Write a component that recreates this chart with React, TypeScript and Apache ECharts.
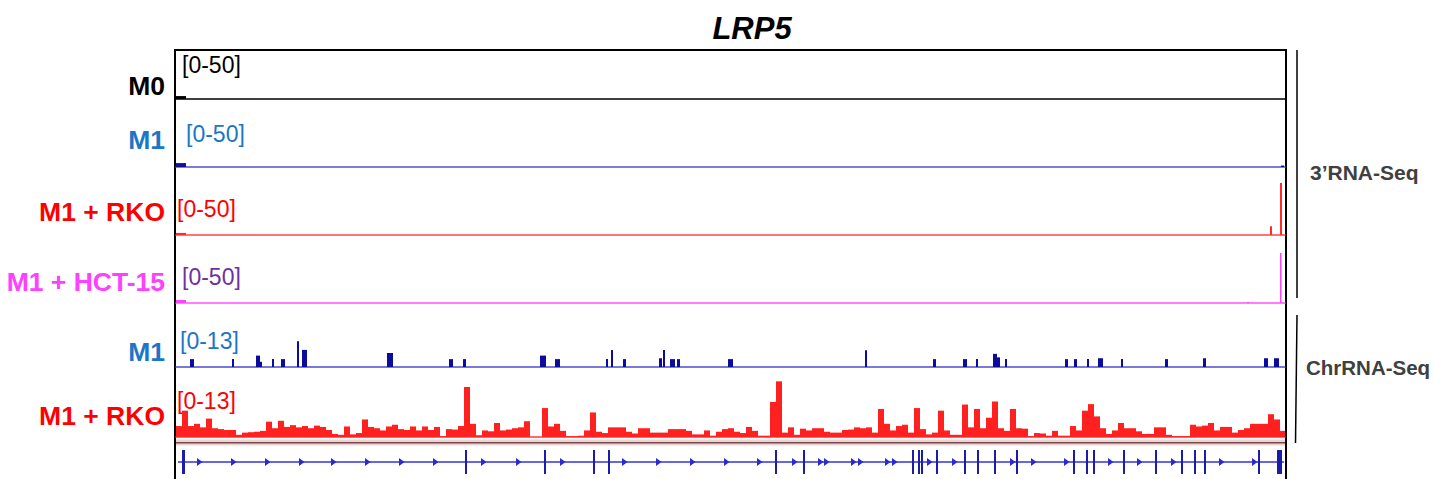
import React, { useEffect, useRef } from "react";
import * as echarts from "echarts";

// ---------- DATA ----------
const geneName = "LRP5";
const trackNames = ["M0", "M1", "M1 + RKO", "M1 + HCT-15", "M1", "M1 + RKO"];
const trackRanges = ["[0-50]", "[0-50]", "[0-50]", "[0-50]", "[0-13]", "[0-13]"];
const trackMax = [50, 50, 50, 50, 13, 13];
const assayNames = ["3\u2019RNA-Seq", "ChrRNA-Seq"];
const regionLength = 1109; // genomic positions (arbitrary units)

// 3'RNA-Seq signal: [start, end, value]
const m0Signal = [[0, 10, 3]];
const m1Signal = [[0, 10, 4], [1105, 1108, 1.5]];
const rkoSignal = [[0, 10, 2], [1094, 1096, 8.5], [1104, 1106, 50]];
const hctSignal = [[0, 10, 3], [1071, 1073, 1], [1104, 1105.5, 50]];

// ChrRNA-Seq M1 signal: [start, end, value]
const chrM1Signal = [
  [14, 18, 1.8], [56, 58, 1.8], [80, 84, 2.6], [84, 86, 1.2], [96, 98, 1.8],
  [105, 109, 1.8], [121, 123, 5.9], [126, 131, 3.9], [211, 217, 3.2], [273, 277, 1.8],
  [287, 290, 1.8], [364, 370, 2.6], [379, 384, 1.8], [430, 432, 1.8], [435, 437, 3.9],
  [447, 450, 1.8], [483, 486, 2], [487, 489, 3.9], [494, 499, 1.8], [501, 504, 1.8],
  [552, 557, 1.8], [689, 691, 3.8], [757, 760, 1.8], [787, 791, 1.8], [800, 802, 1.8],
  [817, 821, 3], [821, 824, 2.2], [829, 831, 1.8], [889, 892, 1.8], [898, 901, 1.8],
  [911, 913, 1.8], [922, 927, 2], [945, 947, 1.8], [989, 992, 1.8], [1027, 1030, 2],
  [1088, 1092, 2], [1098, 1103, 2],
];

// ChrRNA-Seq M1 + RKO signal in fixed bins
const chrRkoBin = 6;
const chrRkoValues = [
  2.5, 6, 2.5, 3, 2.2, 4.2, 2, 1.8, 1.6, 1.6,
  0.5, 1, 1.1, 1.2, 1.4, 3.5, 2, 3.7, 2.3, 2.7,
  2.2, 2.5, 2, 2.6, 2.3, 1.6, 0.7, 0.5, 2.4, 0.6,
  0.9, 4, 2.3, 2, 1.5, 2.4, 2.8, 1.8, 1.6, 2.4,
  1.5, 2.4, 1.6, 2.3, 0.2, 1.8, 1.7, 2.5, 11.4, 3,
  0.4, 1.5, 1.3, 3.2, 1.5, 1.7, 2, 2.2, 3.6, 0,
  0, 6.6, 2.4, 3, 1.4, 0.2, 0.2, 0.3, 1.5, 5.6,
  1.2, 0.9, 2.2, 2.2, 2.2, 1.2, 0.8, 2, 2, 1,
  1, 1, 1.8, 1.8, 1.8, 1.4, 0.6, 0.6, 1.5, 0.3,
  1.2, 1.8, 2, 1.2, 0.9, 2.3, 1.4, 0.3, 0.3, 8,
  12.7, 1, 2.2, 0.5, 1.9, 1.5, 2, 2, 1.2, 1,
  1, 1.6, 1.7, 2.2, 2, 2.2, 1, 6.4, 3, 1.5,
  2.5, 2.8, 1, 6.6, 1.8, 0.6, 1, 6, 1.5, 0.5,
  0.5, 7.4, 2.2, 6.4, 2, 4.4, 8.1, 2, 1.4, 6.4,
  2, 1.9, 0.2, 0.9, 0.8, 0.3, 1.4, 0.3, 0.3, 2.5,
  1.5, 6, 7.5, 4.7, 2, 0.7, 1.5, 3.2, 2, 2,
  1.3, 0.7, 0.7, 2.2, 2.2, 0.5, 0.2, 0.2, 0.2, 2.8,
  2.4, 2.6, 3.2, 1.5, 2.3, 2.3, 1, 1.6, 2, 3,
  3, 3, 5.2, 4, 1.4,
];

// Gene model
const geneSpan = [2, 1108];
const exons = [
  [6, 9], [289, 291], [368, 370], [417, 419], [432, 434], [599, 601], [627, 629],
  [736, 738], [742, 744], [745, 747], [760, 762], [788, 790], [801, 803], [818, 820],
  [840, 842], [897, 899], [910, 912], [917, 919], [947, 949], [979, 981], [1005, 1007],
  [1018, 1020], [1028, 1030], [1082, 1084], [1101, 1106],
];
const strandArrows = [
  23, 57, 91, 125, 157, 191, 225, 259, 307, 342, 386, 448, 482, 516, 550, 583, 618,
  644, 650, 677, 684, 711, 718, 753, 778, 836, 857, 890, 934, 963, 997, 1045, 1078,
];

// ---------- STYLE / LAYOUT ----------
const FONT = "Liberation Sans, Arial, Helvetica, sans-serif";
const PLOT_LEFT = 176;
const PLOT_WIDTH = 1109;
const trackLayout = [
  { top: 50, height: 49 },
  { top: 118, height: 49 },
  { top: 183, height: 52 },
  { top: 253, height: 50 },
  { top: 310, height: 57 },
  { top: 380, height: 57 },
];
const geneLayout = { top: 450, height: 24 };
const barColors = ["#000000", "#10109a", "#ff2a2a", "#ff44ff", "#0c0c9c", "#ff2020"];
const baseColors = ["#000000", "#5050d4", "#ff4646", "#ff50ff", "#4c4cd0", "#ff3a3a"];
const nameColors = ["#000000", "#1b76c6", "#ff0000", "#ff40ff", "#1b76c6", "#ff0000"];
const rangeColors = ["#000000", "#1b76c6", "#ff0000", "#7030a0", "#1b76c6", "#ff0000"];
const rangePos = [
  { x: 182, y: 65 }, { x: 186, y: 134 }, { x: 177, y: 209 },
  { x: 182, y: 277 }, { x: 180, y: 341 }, { x: 177, y: 401 },
];
const nameY = [86, 140, 212, 282, 352, 416];

function intervalSeries(gridIndex: number, data: number[][], color: string) {
  return {
    type: "custom",
    xAxisIndex: gridIndex,
    yAxisIndex: gridIndex,
    encode: { x: [0, 1], y: 2 },
    data,
    clip: true,
    renderItem: (params: any, api: any) => {
      const s = api.coord([api.value(0), 0]);
      const e = api.coord([api.value(1), api.value(2)]);
      return {
        type: "rect",
        shape: { x: s[0], y: e[1], width: Math.max(e[0] - s[0], 1.5), height: s[1] - e[1] },
        style: { fill: color },
      };
    },
  };
}

export default function App() {
  const ref = useRef<HTMLDivElement>(null);
  useEffect(() => {
    document.body.style.margin = "0";
    if (!ref.current) return;
    const chart = echarts.init(ref.current, undefined, { renderer: "svg" });

    const chrRkoSignal = chrRkoValues.map((v, i) => [i * chrRkoBin, Math.min((i + 1) * chrRkoBin, regionLength), v]);
    const signals = [m0Signal, m1Signal, rkoSignal, hctSignal, chrM1Signal, chrRkoSignal];

    const grids: any[] = trackLayout.map((l) => ({ left: PLOT_LEFT, width: PLOT_WIDTH, top: l.top, height: l.height }));
    grids.push({ left: PLOT_LEFT, width: PLOT_WIDTH, top: geneLayout.top, height: geneLayout.height });

    const xAxes: any[] = grids.map((_, i) => ({
      type: "value",
      gridIndex: i,
      min: 0,
      max: regionLength,
      axisLine: i < 6 ? { show: true, onZero: false, lineStyle: { color: baseColors[i], width: 1.6 } } : { show: false },
      axisTick: { show: false },
      axisLabel: { show: false },
      splitLine: { show: false },
    }));
    const yAxes: any[] = grids.map((_, i) => ({
      type: "value",
      gridIndex: i,
      min: i < 6 ? 0 : -1,
      max: i < 6 ? trackMax[i] : 1,
      show: false,
      splitLine: { show: false },
    }));

    const series: any[] = signals.map((d, i) => intervalSeries(i, d, barColors[i]));

    // gene line
    series.push({
      type: "custom",
      xAxisIndex: 6,
      yAxisIndex: 6,
      data: [geneSpan],
      encode: { x: [0, 1] },
      renderItem: (p: any, api: any) => {
        const a = api.coord([api.value(0), 0]);
        const b = api.coord([api.value(1), 0]);
        return { type: "line", shape: { x1: a[0], y1: a[1], x2: b[0], y2: b[1] }, style: { stroke: "#3535d6", lineWidth: 1.6 } };
      },
    });
    // exons
    series.push({
      type: "custom",
      xAxisIndex: 6,
      yAxisIndex: 6,
      data: exons,
      encode: { x: [0, 1] },
      renderItem: (p: any, api: any) => {
        const a = api.coord([api.value(0), 1]);
        const b = api.coord([api.value(1), -1]);
        return { type: "rect", shape: { x: a[0], y: a[1], width: Math.max(b[0] - a[0], 1.6), height: b[1] - a[1] }, style: { fill: "#1c1caa" } };
      },
    });
    // strand arrows
    series.push({
      type: "custom",
      xAxisIndex: 6,
      yAxisIndex: 6,
      data: strandArrows.map((x) => [x, 0]),
      encode: { x: 0, y: 1 },
      renderItem: (p: any, api: any) => {
        const c = api.coord([api.value(0), 0]);
        return {
          type: "polygon",
          shape: { points: [[c[0] - 2, c[1] - 4], [c[0] + 3.5, c[1]], [c[0] - 2, c[1] + 4]] },
          style: { fill: "#2a2ad0" },
        };
      },
    });

    const graphics: any[] = [];
    // title
    graphics.push({
      type: "text",
      x: 752,
      y: 28,
      style: { text: geneName, font: `italic bold 31px ${FONT}`, fill: "#000", textAlign: "center", textVerticalAlign: "middle" },
    });
    // track names and ranges
    trackNames.forEach((n, i) => {
      graphics.push({
        type: "text",
        x: 165,
        y: nameY[i],
        style: { text: n, font: `bold 26.5px ${FONT}`, fill: nameColors[i], textAlign: "right", textVerticalAlign: "middle" },
      });
      graphics.push({
        type: "text",
        x: rangePos[i].x,
        y: rangePos[i].y,
        style: { text: trackRanges[i], font: `23px ${FONT}`, fill: rangeColors[i], textAlign: "left", textVerticalAlign: "middle" },
      });
    });
    // frame
    graphics.push({ type: "line", shape: { x1: 175, y1: 49, x2: 175, y2: 479 }, style: { stroke: "#000", lineWidth: 2 } });
    graphics.push({ type: "line", shape: { x1: 1286, y1: 49, x2: 1286, y2: 479 }, style: { stroke: "#000", lineWidth: 2 } });
    graphics.push({ type: "line", shape: { x1: 174, y1: 50, x2: 1287, y2: 50 }, style: { stroke: "#000", lineWidth: 2 } });
    // separator band under ChrRNA tracks
    graphics.push({ type: "rect", shape: { x: 176, y: 439.5, width: 1109, height: 6 }, style: { fill: "#ead4d4" } });
    graphics.push({ type: "line", shape: { x1: 176, y1: 442.7, x2: 1285, y2: 442.7 }, style: { stroke: "#7a4848", lineWidth: 1.4 } });
    // assay brackets
    graphics.push({ type: "line", shape: { x1: 1297, y1: 50, x2: 1297, y2: 298 }, style: { stroke: "#000", lineWidth: 1.5 } });
    graphics.push({ type: "line", shape: { x1: 1297, y1: 315, x2: 1295.5, y2: 443 }, style: { stroke: "#000", lineWidth: 1.5 } });
    graphics.push({
      type: "text",
      x: 1310,
      y: 172,
      style: { text: assayNames[0], font: `bold 21px ${FONT}`, fill: "#404040", textAlign: "left", textVerticalAlign: "middle" },
    });
    graphics.push({
      type: "text",
      x: 1306,
      y: 367,
      style: { text: assayNames[1], font: `bold 20.5px ${FONT}`, fill: "#404040", textAlign: "left", textVerticalAlign: "middle" },
    });

    chart.setOption({
      animation: false,
      backgroundColor: "#ffffff",
      grid: grids,
      xAxis: xAxes,
      yAxis: yAxes,
      series,
      graphic: { elements: graphics },
    });
    return () => chart.dispose();
  }, []);
  return <div ref={ref} style={{ width: 1435, height: 479 }} />;
}
